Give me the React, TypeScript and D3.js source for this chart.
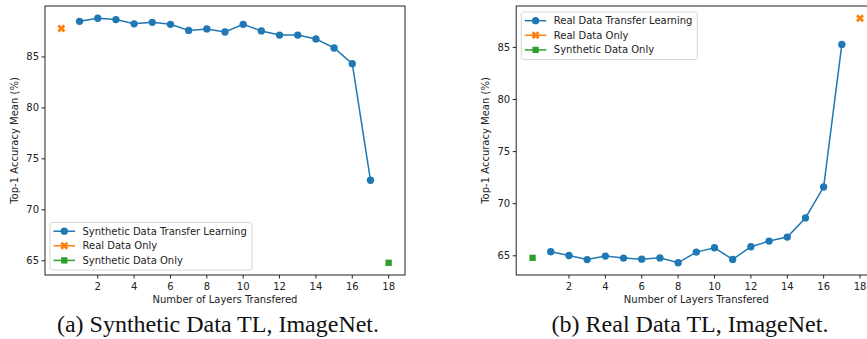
import React from "react";
import * as d3 from "d3";

const layers = [1, 2, 3, 4, 5, 6, 7, 8, 9, 10, 11, 12, 13, 14, 15, 16, 17];
const synthTL = [88.5, 88.8, 88.67, 88.25, 88.4, 88.2, 87.6, 87.75, 87.45, 88.2, 87.55, 87.15, 87.15, 86.77, 85.88, 84.34, 72.9];
const realTL = [65.39, 65.03, 64.64, 64.97, 64.78, 64.68, 64.8, 64.33, 65.35, 65.77, 64.65, 65.87, 66.41, 66.8, 68.63, 71.6, 85.29];
const realOnlyValue = 87.8;
const synthOnlyValue = 64.8;
const xTicks = [2, 4, 6, 8, 10, 12, 14, 16, 18];
const yTicks = [65, 70, 75, 80, 85];

const BLUE = "#1f77b4";
const ORANGE = "#ff7f0e";
const GREEN = "#2ca02c";
const FONT = "DejaVu Sans, sans-serif";

type PanelProps = {
  left: number;
  width: number;
  series: number[];
  realOnlyX: number;
  synthOnlyX: number;
  legendLabels: string[];
  legendPos: { x: number; y: number; w: number };
  caption: string;
  captionX: number;
};

function padDomain(vals: number[]): [number, number] {
  const [lo, hi] = d3.extent(vals) as [number, number];
  const p = (hi - lo) * 0.05;
  return [lo - p, hi + p];
}

function Panel(props: PanelProps) {
  const { left, width, series, realOnlyX, synthOnlyX, legendLabels, legendPos, caption, captionX } = props;
  const top = 6;
  const bottom = 275;
  const allX = [...layers, realOnlyX, synthOnlyX];
  const allY = [...series, realOnlyValue, synthOnlyValue];
  const x = d3.scaleLinear().domain(padDomain(allX)).range([left, left + width]);
  const y = d3.scaleLinear().domain(padDomain(allY)).range([bottom, top]);
  const line = d3
    .line<number>()
    .x((_, i) => x(layers[i]))
    .y((d) => y(d));
  const circle = d3.symbol().type(d3.symbolCircle).size(42)();
  const cross = d3.symbol().type(d3.symbolCross).size(40)();
  const square = d3.symbol().type(d3.symbolSquare).size(40)();
  const cy = (top + bottom) / 2;
  const markers = [circle, cross, square];
  const colors = [BLUE, ORANGE, GREEN];
  const rots = [0, 45, 0];
  return (
    <g>
      <rect x={left} y={top} width={width} height={bottom - top} fill="white" />
      <path d={line(series) || ""} fill="none" stroke={BLUE} strokeWidth={1.5} />
      {series.map((v, i) => (
        <path key={i} d={circle} transform={`translate(${x(layers[i])},${y(v)})`} fill={BLUE} />
      ))}
      <path d={cross} transform={`translate(${x(realOnlyX)},${y(realOnlyValue)}) rotate(45)`} fill={ORANGE} />
      <path d={square} transform={`translate(${x(synthOnlyX)},${y(synthOnlyValue)})`} fill={GREEN} />
      <rect x={left} y={top} width={width} height={bottom - top} fill="none" stroke="#222" strokeWidth={1} />
      {xTicks.map((t) => (
        <g key={t} transform={`translate(${x(t)},${bottom})`}>
          <line y2={3.5} stroke="#222" />
          <text y={15} textAnchor="middle" fontSize={10} fontFamily={FONT} fill="#222">
            {t}
          </text>
        </g>
      ))}
      {yTicks.map((t) => (
        <g key={t} transform={`translate(${left},${y(t)})`}>
          <line x2={-3.5} stroke="#222" />
          <text x={-6} dy="0.35em" textAnchor="end" fontSize={10} fontFamily={FONT} fill="#222">
            {t}
          </text>
        </g>
      ))}
      <text
        x={left + width / 2}
        y={303}
        textAnchor="middle"
        fontSize={10}
        fontFamily={FONT}
        fill="#222"
      >
        Number of Layers Transfered
      </text>
      <text
        transform={`translate(${left - 27},${cy}) rotate(-90)`}
        textAnchor="middle"
        fontSize={10}
        fontFamily={FONT}
        fill="#222"
      >
        Top-1 Accuracy Mean (%)
      </text>
      <g transform={`translate(${legendPos.x},${legendPos.y})`}>
        <rect width={legendPos.w} height={47.5} rx={2.5} fill="white" fillOpacity={0.8} stroke="#ccc" strokeWidth={0.8} />
        {legendLabels.map((lab, i) => (
          <g key={lab} transform={`translate(0,${8.7 + i * 14.6})`}>
            <line x1={3.5} x2={25} stroke={colors[i]} strokeWidth={1.5} />
            <path d={markers[i]} transform={`translate(14.3,0) rotate(${rots[i]})`} fill={colors[i]} />
            <text x={32.5} dy="0.35em" fontSize={10} fontFamily={FONT} fill="#222">
              {lab}
            </text>
          </g>
        ))}
      </g>
      <text
        x={captionX}
        y={332}
        textAnchor="middle"
        fontSize={24}
        fontFamily="Liberation Serif, Times New Roman, serif"
        fill="#111"
      >
        {caption}
      </text>
    </g>
  );
}

export default function App() {
  return (
    <svg
      width={867}
      height={339}
      style={{ position: "absolute", left: 0, top: 0, background: "white" }}
    >
      <rect width={867} height={339} fill="white" />
      <Panel
        left={45}
        width={360}
        series={synthTL}
        realOnlyX={0}
        synthOnlyX={18}
        legendLabels={["Synthetic Data Transfer Learning", "Real Data Only", "Synthetic Data Only"]}
        legendPos={{ x: 50, y: 222.5, w: 202 }}
        caption="(a) Synthetic Data TL, ImageNet."
        captionX={218}
      />
      <Panel
        left={516.2}
        width={360.2}
        series={realTL}
        realOnlyX={18}
        synthOnlyX={0}
        legendLabels={["Real Data Transfer Learning", "Real Data Only", "Synthetic Data Only"]}
        legendPos={{ x: 521.3, y: 12, w: 176 }}
        caption="(b) Real Data TL, ImageNet."
        captionX={690}
      />
    </svg>
  );
}
